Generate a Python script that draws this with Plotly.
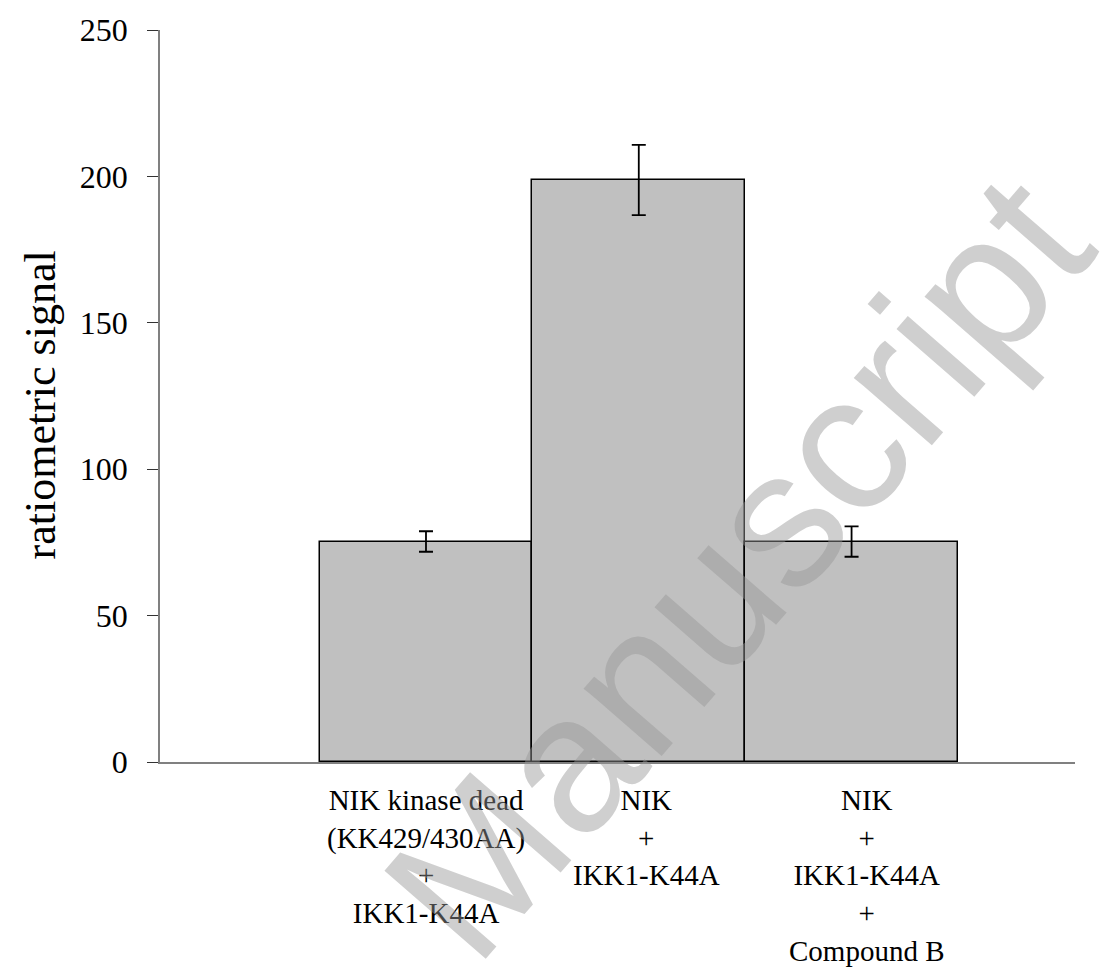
import plotly.graph_objects as go

categories = ["NIK kinase dead<br>(KK429/430AA)<br>+<br>IKK1-K44A",
              "NIK<br>+<br>IKK1-K44A",
              "NIK<br>+<br>IKK1-K44A<br>+<br>Compound B"]
values = [75.3, 198.8, 75.3]
errors = [3.5, 12.0, 5.2]
y_ticks = [0, 50, 100, 150, 200, 250]
y_title = "ratiometric signal"
watermark = "Manuscript"

label_xshift = [0, 8, 15]

W, H = 1107, 967
L, T, PW, PH = 160, 25, 915, 737

fig = go.Figure()
fig.add_trace(go.Bar(
    x=categories, y=values,
    marker=dict(color="#c0c0c0", line=dict(color="#000000", width=1.5)),
    error_y=dict(type="data", array=errors, visible=True, color="#000000",
                 thickness=1.8, width=7),
    width=1.0,
))

serif = "Liberation Serif, Times New Roman, serif"

def px(xv):
    return (xv - L) / PW

def py(yv):
    return 1 - (yv - T) / PH

annotations = []
for i, c in enumerate(categories):
    annotations.append(dict(
        x=c, xref="x", y=0, yref="paper", yanchor="top", xanchor="center",
        yshift=-20, xshift=label_xshift[i], text=c, showarrow=False,
        font=dict(family=serif, size=29, color="#000000"), align="center"))

annotations.append(dict(
    x=px(40), xref="paper", y=py(403), yref="paper",
    xanchor="center", yanchor="middle", text=y_title, textangle=-90,
    showarrow=False, font=dict(family=serif, size=44, color="#000000")))

annotations.append(dict(
    x=px(737), xref="paper", y=py(565), yref="paper",
    xanchor="center", yanchor="middle", text=watermark, textangle=-49,
    showarrow=False,
    font=dict(family="Liberation Sans, Arial, sans-serif", size=195,
              color="rgba(150,150,150,0.46)")))

fig.update_layout(
    width=W, height=H,
    margin=dict(l=L, r=W - L - PW, t=T, b=H - T - PH, pad=0),
    paper_bgcolor="white", plot_bgcolor="white",
    showlegend=False, bargap=0,
    annotations=annotations,
    xaxis=dict(type="category", range=[-1.25, 3.05], showticklabels=False,
               ticks="", showline=True, linecolor="#808080", linewidth=1.5,
               showgrid=False, zeroline=False, fixedrange=True),
    yaxis=dict(range=[0, 250], tickvals=y_ticks, ticks="outside", ticklen=11,
               tickcolor="#333333", tickwidth=1.2, showline=True,
               linecolor="#808080", linewidth=1.5, showgrid=False,
               zeroline=False, ticklabelstandoff=13, ticklabeloverflow="allow",
               tickfont=dict(family=serif, size=32, color="#000000")),
)

fig.write_html("out.html", config={"displayModeBar": False},
               post_script="document.body.style.margin='0';document.body.style.overflow='hidden';")
